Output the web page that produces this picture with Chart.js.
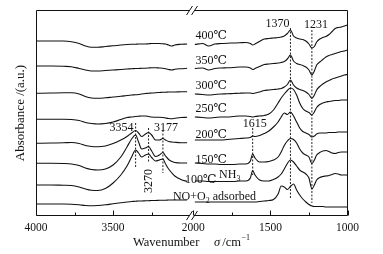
<!DOCTYPE html>
<html>
<head>
<meta charset="utf-8">
<script src="https://cdn.jsdelivr.net/npm/chart.js@4.4.1/dist/chart.umd.min.js"></script>
<style>
  html, body { margin: 0; padding: 0; background: #fff; }
  #wrap { width: 383px; height: 254px; }
</style>
</head>
<body>
<div id="wrap"><canvas id="chart" width="383" height="254"></canvas></div>
<script>
// broken wavenumber axis: 4000-3000 | 2000-1000
const GAP = 20;

const leftWn = [4000, 3900, 3820, 3770, 3720, 3680, 3640, 3600, 3550, 3500, 3450, 3410, 3380, 3354,
  3335, 3315, 3290, 3270, 3250, 3225, 3200, 3177, 3160, 3140, 3119, 3100, 3060, 3020];
const rightWn = [1990, 1940, 1900, 1860, 1820, 1780, 1740, 1700, 1660, 1630, 1615, 1600, 1570, 1540,
  1510, 1480, 1450, 1430, 1410, 1390, 1370, 1350, 1330, 1310, 1290, 1270, 1250, 1231, 1215, 1200,
  1180, 1160, 1140, 1120, 1100, 1080, 1060, 1040, 1020, 1000];

// absorbance (a.u., spectra offset)
const t400L = [175, 175, 175, 174.3, 172.5, 170, 168.7, 168.7, 169.5, 170.2, 171, 171.5, 171.7, 171.8,
  172, 172, 172, 172.2, 172.5, 172.5, 172.5, 172.2, 172, 171, 170, 171, 171.7, 172];
const t350L = [150, 150, 149.7, 149.3, 147.5, 146, 145, 145, 145.5, 146, 146.5, 147, 147.2, 147.5,
  147.5, 147.7, 147.8, 148, 148.2, 148.2, 148, 147.8, 147.2, 146.5, 146, 146.7, 147.3, 147.7];
const t300L = [122.7, 123, 123.2, 123.2, 122, 119.5, 118, 117.7, 118.2, 119, 119.7, 120.5, 121, 121.2,
  121.5, 122, 122.5, 122.7, 123, 123.3, 123.5, 123.7, 123.8, 124, 124, 124, 124.2, 124.3];
const t250L = [96.7, 96.7, 96.7, 96.5, 95.5, 93.5, 92.5, 92, 92.5, 94, 96.5, 98.5, 99, 99.5,
  99.8, 100, 100, 99.5, 99, 98.7, 98.7, 98.5, 98, 97.5, 97.3, 97.7, 98.5, 98.7];
const t200L = [72.7, 73, 73.2, 73.5, 72.5, 70.5, 69.5, 69.3, 70, 72.5, 76, 79.5, 83, 85.5,
  83, 79.5, 82, 83.5, 81, 76, 76, 77.5, 76, 74.5, 74, 73.7, 73.3, 73.3];
const t150L = [52.7, 52.7, 52.5, 52, 50.5, 48, 46.5, 46, 47, 51, 59, 69, 77, 81,
  74, 67, 68, 69.5, 65, 59.5, 61, 63.5, 60, 56.5, 54.5, 53.5, 53, 53];
const t100L = [31, 31, 30.7, 30.5, 29, 27, 25.7, 25.5, 27.5, 33, 41, 50, 59, 66,
  63, 59, 61, 62, 58.5, 55, 56, 57, 52, 47, 43, 40, 36.5, 34.5];
const noL = [12, 12, 12, 11.8, 11.2, 10.5, 10.2, 10.5, 11.2, 12.2, 13.2, 14, 14.5, 14.7,
  15, 15, 15.2, 15.3, 15.5, 15.5, 15.7, 15.8, 15.8, 16, 16, 16, 16, 16];

const t400R = [171.5, 172.5, 170, 172, 172.5, 172.8, 173, 173.2, 173.5, 172.5, 171, 172, 174.5, 177,
  177.5, 178, 178.5, 179, 180, 182.5, 186, 180, 178, 177, 176.5, 175, 172, 168, 169.5, 174,
  177, 178.5, 179.5, 181.5, 184.5, 187.5, 188.5, 189, 190, 191];
const t350R = [147.5, 148, 146, 147.5, 148, 148.2, 148.5, 149, 149, 148, 146.5, 147.5, 149.5, 151.5,
  152, 152.5, 153, 153.5, 154.5, 157, 161, 155, 152.5, 151.5, 150.5, 149, 146, 141, 145, 151,
  154, 156.5, 159, 160.5, 161.5, 162.5, 163.5, 164.5, 165, 166];
const t300R = [122, 121.5, 121, 121.5, 122, 122.2, 122.5, 122.8, 123, 123, 122.5, 123, 124, 125.5,
  126, 126.5, 127, 127.5, 129, 131.5, 136, 131, 128, 126.5, 125.5, 124, 121.5, 117.5, 121, 126,
  129.5, 132, 134, 135.5, 137, 138, 139, 140, 141, 141.5];
const t250R = [99, 98.5, 98, 98.5, 99, 99, 99.5, 100, 100, 99.5, 99, 99.5, 100, 100.5,
  102, 106, 113, 118, 122, 125.5, 128, 126.5, 121, 113, 107.5, 105, 103.5, 101, 104, 108.5,
  111.5, 113, 114, 114.5, 115, 115.5, 115.5, 116, 116, 116];
const t200R = [76, 76, 76, 76, 76, 76.5, 77, 77.5, 78, 78.5, 80, 79.5, 80.5, 82.5,
  85, 89, 94, 99, 103, 101.5, 104, 100, 94, 88, 84.5, 83, 81.5, 79, 80, 82,
  83, 83, 83, 83.5, 83.5, 83.5, 84, 84, 84, 84];
const t150R = [53, 52.5, 52, 52, 51.5, 51.5, 51.5, 52, 52, 55, 62, 58, 54, 54,
  54.5, 56, 59, 64, 70.5, 75, 77.5, 76.5, 73, 67, 63, 61, 59, 52.5, 56, 61,
  63.5, 65, 65.5, 64.5, 63, 62.5, 63.5, 64, 64, 64];
const t100R = [35, 35, 34.5, 34.5, 34.5, 34.5, 34.5, 35, 35, 38, 45.5, 41, 36, 35,
  35, 36.5, 39, 42, 47, 52.5, 56, 54, 50, 46, 44, 42, 38, 27, 31, 36,
  38.5, 39.5, 40, 40.5, 41.5, 42.5, 42, 41, 41, 41];
const noR = [14, 14, 14, 14, 14, 14, 14, 14, 14, 14, 14, 14, 14.5, 15,
  15.5, 16.5, 22, 30, 29, 26.5, 29.5, 32, 26, 21, 17, 14, 11.5, 10, 9.5, 9.5,
  9.5, 9.5, 9, 9, 9, 9, 9, 9, 9, 9];

const xTickWn = [4000, 3500, 2000, 1500, 1000];
const minorTickWn = [3750, 3250, 1750, 1250];

// dotted guide lines at band positions
const peakWn = [3354, 3270, 3177, 1615, 1370, 1231];
const peakTop = [93, 88, 86, 88, 188, 186];
const peakBottom = [49, 53, 43, 41, 18, 13];

function toD(wn) { return wn > 2500 ? 4000 - wn : 1000 + GAP + (2000 - wn); }
function toWn(d) { return d <= 1000 ? 4000 - d : 2000 - (d - 1000 - GAP); }

function spectrum(left, right) {
  const pts = leftWn.map((w, i) => ({ x: toD(w), y: left[i] }));
  pts.push({ x: 1000 + GAP / 2, y: null });
  rightWn.forEach((w, i) => pts.push({ x: toD(w), y: right[i] }));
  return {
    data: pts,
    borderColor: '#111',
    borderWidth: 1.1,
    pointRadius: 0,
    fill: false,
    spanGaps: false,
    cubicInterpolationMode: 'monotone'
  };
}

const datasets = [
  spectrum(t400L, t400R), spectrum(t350L, t350R), spectrum(t300L, t300R), spectrum(t250L, t250R),
  spectrum(t200L, t200R), spectrum(t150L, t150R), spectrum(t100L, t100R), spectrum(noL, noR)
];
peakWn.forEach((w, i) => {
  datasets.push({
    data: [{ x: toD(w), y: peakTop[i] }, { x: toD(w), y: peakBottom[i] }],
    borderColor: '#222',
    borderWidth: 1,
    borderDash: [2, 1.5],
    pointRadius: 0
  });
});

const SERIF = '"Liberation Serif", "DejaVu Serif", serif';

// text labels: [text, subscript, rest, wavenumber, absorbance, dx, align]
const notes = [
  ['400℃', '', '', 1985, 177, 0, 'left'],
  ['350℃', '', '', 1985, 152, 0, 'left'],
  ['300℃', '', '', 1985, 127, 0, 'left'],
  ['250℃', '', '', 1985, 104, 0, 'left'],
  ['200℃', '', '', 1985, 78, 0, 'left'],
  ['150℃', '', '', 1985, 53, 0, 'left'],
  ['100℃', '', '', 3034, 33, 0, 'left'],
  ['NH', '3', '', 1833, 38, 0, 'left'],
  ['NO+O', '2', ' adsorbed', 3112, 16, 0, 'left'],
  ['3354', '', '', 3354, 85, -2, 'right'],
  ['3177', '', '', 3177, 85, 3, 'center'],
  ['1615', '', '', 1615, 89, 2, 'center'],
  ['1370', '', '', 1370, 189, -1, 'right'],
  ['1231', '', '', 1231, 188, 4, 'center']
];

const decor = {
  id: 'decor',
  afterDraw(chart) {
    const { ctx, chartArea: ca, scales: { x, y } } = chart;
    ctx.save();
    ctx.strokeStyle = '#111';
    ctx.lineWidth = 1;
    const L = Math.round(ca.left) + 0.5, R = Math.round(ca.right) - 0.5;
    const T = Math.round(ca.top) + 0.5, B = Math.round(ca.bottom) - 0.5;
    const bx = Math.round(x.getPixelForValue(1000 + GAP / 2));

    // frame with axis break
    ctx.beginPath();
    ctx.moveTo(bx - 2, T); ctx.lineTo(L, T); ctx.lineTo(L, B); ctx.lineTo(bx - 2, B);
    ctx.moveTo(bx + 2, T); ctx.lineTo(R, T); ctx.lineTo(R, B); ctx.lineTo(bx + 2, B);
    // "//" marks
    [T, B].forEach(yy => {
      [-2.5, 2.5].forEach(off => {
        ctx.moveTo(bx + off - 3, yy + 4.5);
        ctx.lineTo(bx + off + 3, yy - 4.5);
      });
    });
    // inward ticks
    xTickWn.forEach(w => {
      const px = Math.round(x.getPixelForValue(toD(w))) + 0.5;
      ctx.moveTo(px, B); ctx.lineTo(px, B - 5);
    });
    minorTickWn.forEach(w => {
      const px = Math.round(x.getPixelForValue(toD(w))) + 0.5;
      ctx.moveTo(px, B); ctx.lineTo(px, B - 3);
    });
    ctx.stroke();

    // labels
    ctx.fillStyle = '#111';
    ctx.textBaseline = 'alphabetic';
    notes.forEach(([txt, sub, rest, wn, a, dx, align]) => {
      let px = x.getPixelForValue(toD(wn)) + dx;
      const py = y.getPixelForValue(a);
      ctx.font = '12px ' + SERIF;
      if (!sub) {
        ctx.textAlign = align;
        ctx.fillText(txt, px, py);
        return;
      }
      ctx.textAlign = 'left';
      ctx.fillText(txt, px, py);
      px += ctx.measureText(txt).width;
      ctx.font = '8px ' + SERIF;
      ctx.fillText(sub, px, py + 3);
      px += ctx.measureText(sub).width;
      ctx.font = '12px ' + SERIF;
      ctx.fillText(rest, px, py);
    });

    // rotated 3270 label below its guide line
    ctx.save();
    ctx.translate(x.getPixelForValue(toD(3270)) + 3, y.getPixelForValue(35));
    ctx.rotate(-Math.PI / 2);
    ctx.font = '12px ' + SERIF;
    ctx.textAlign = 'center';
    ctx.fillText('3270', 0, 0);
    ctx.restore();

    // x axis title: Wavenumber  σ /cm-1
    const ty = 246;
    let tx = 133;
    ctx.textAlign = 'left';
    ctx.font = '12.5px ' + SERIF;
    ctx.fillText('Wavenumber', tx, ty);
    tx = 214;
    ctx.font = 'italic 12.5px ' + SERIF;
    ctx.fillText('σ', tx, ty);
    tx += ctx.measureText('σ').width + 2;
    ctx.font = '12.5px ' + SERIF;
    ctx.fillText('/cm', tx, ty);
    tx += ctx.measureText('/cm').width + 0.5;
    ctx.font = '8px ' + SERIF;
    ctx.fillText('−1', tx, ty - 6);
    ctx.restore();
  }
};

new Chart(document.getElementById('chart'), {
  type: 'line',
  data: { datasets },
  options: {
    responsive: false,
    animation: false,
    devicePixelRatio: 1,
    events: [],
    layout: { padding: { left: 0, right: 35.5, top: 10, bottom: 0 } },
    plugins: { legend: { display: false }, tooltip: { enabled: false } },
    scales: {
      x: {
        type: 'linear',
        min: 0,
        max: 2000 + GAP,
        afterBuildTicks: s => { s.ticks = xTickWn.map(w => ({ value: toD(w) })); },
        afterFit: s => { s.height = 38; },
        grid: { display: false, drawTicks: false, tickLength: 0 },
        border: { display: false },
        ticks: {
          autoSkip: false,
          maxRotation: 0,
          padding: 5,
          color: '#111',
          font: { family: SERIF, size: 11.5 },
          callback: v => String(Math.round(toWn(v)))
        }
      },
      y: {
        type: 'linear',
        min: 0,
        max: 206,
        afterFit: s => { s.width = 36; },
        grid: { display: false, drawTicks: false },
        border: { display: false },
        ticks: { display: false },
        title: {
          display: true,
          text: 'Absorbance /(a.u.)',
          color: '#111',
          font: { family: SERIF, size: 13 },
          padding: { top: 13, bottom: 0 }
        }
      }
    }
  },
  plugins: [decor]
});
</script>
</body>
</html>
